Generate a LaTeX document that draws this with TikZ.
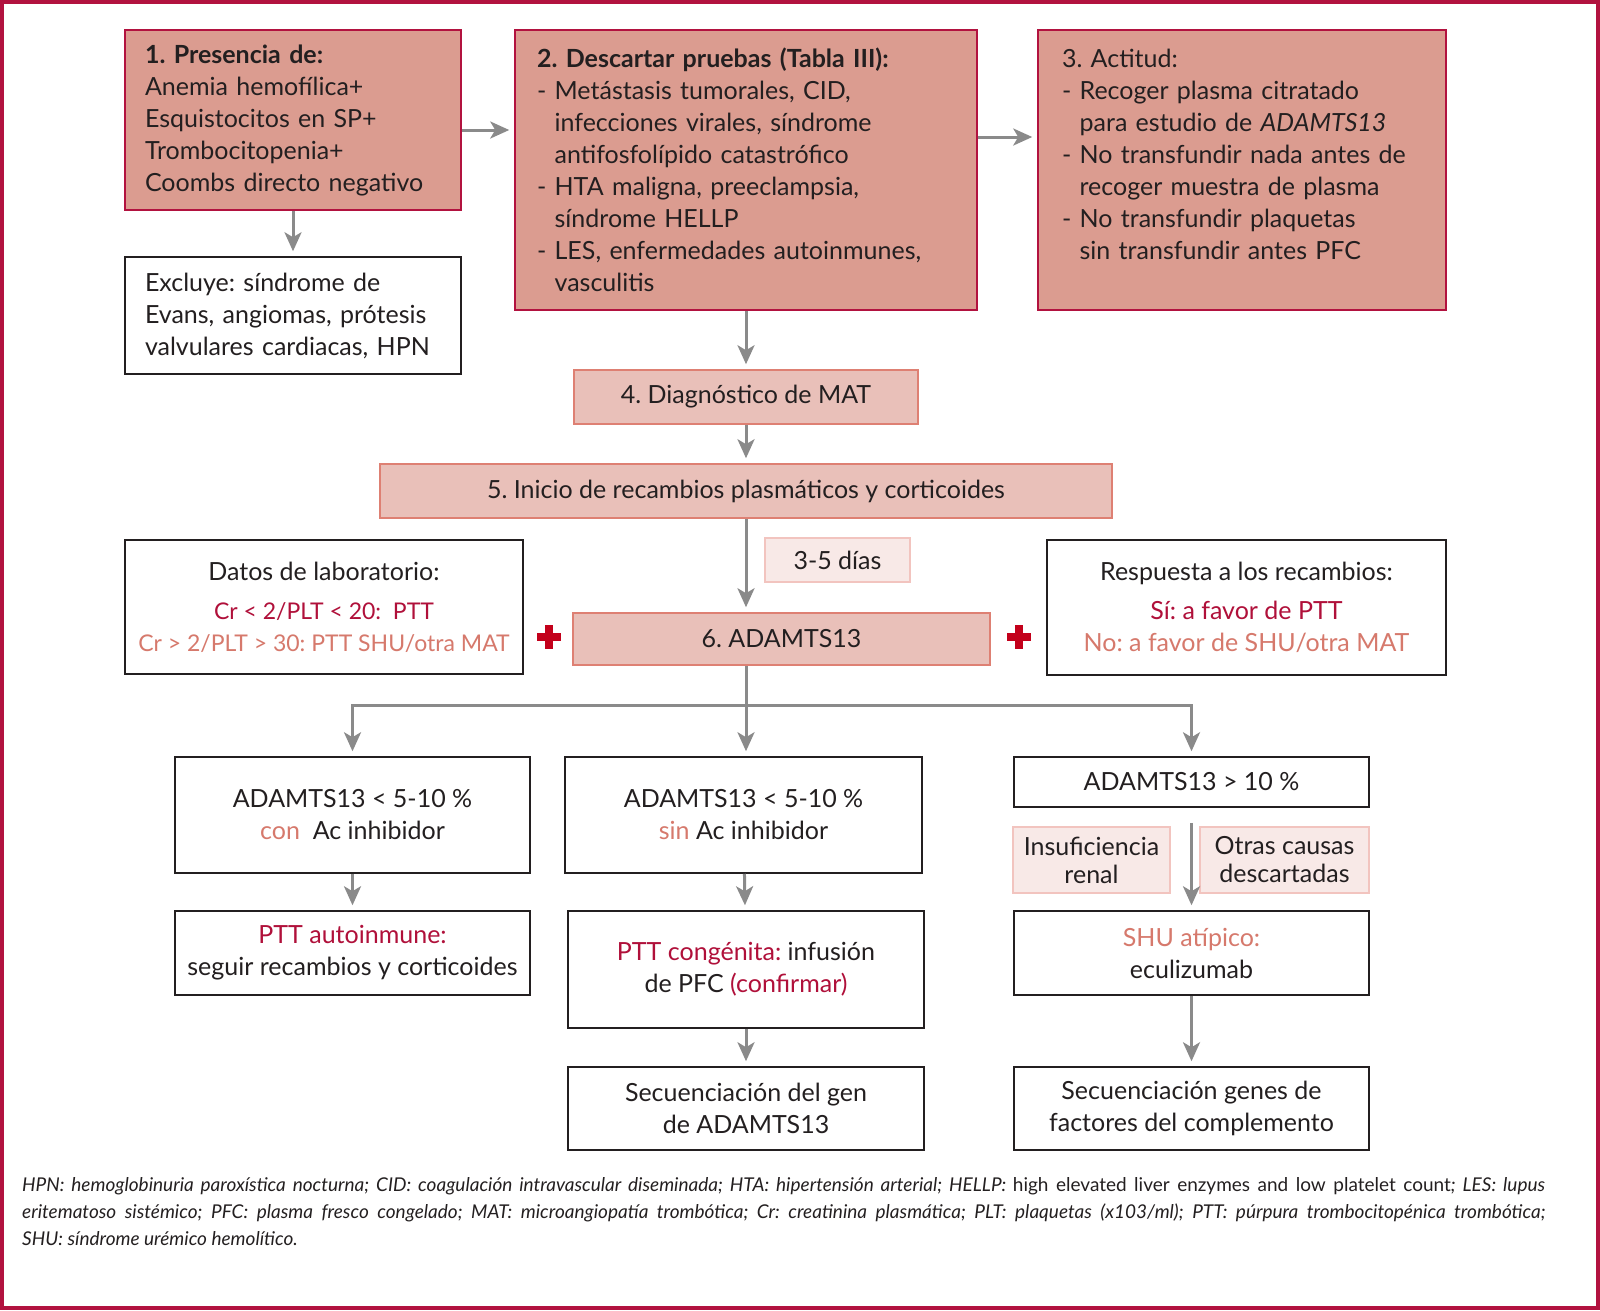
\documentclass[tikz,border=0pt]{standalone}
\usepackage{fontspec}
\setmainfont{Lato}
\frenchspacing
\usetikzlibrary{arrows.meta}
\definecolor{crimson}{HTML}{B2123F}
\definecolor{salmondark}{HTML}{DB9C90}
\definecolor{salmonmid}{HTML}{E9C0B9}
\definecolor{edgemid}{HTML}{DE8073}
\definecolor{salmonlight}{HTML}{F8E9E7}
\definecolor{edgelight}{HTML}{F2C4BF}
\definecolor{redtext}{HTML}{B0103A}
\definecolor{salmontext}{HTML}{D6796C}
\definecolor{arrowgray}{HTML}{8A8A8A}
\definecolor{ink}{HTML}{231F20}
\definecolor{crossred}{HTML}{C3001B}
\begin{document}
\begin{tikzpicture}[x=1pt,y=-1pt,
  every node/.style={font=\fontsize{25}{32}\selectfont, text=ink, inner ysep=0pt},
  darkbox/.style={draw=crimson, line width=1.5pt, fill=salmondark, align=left},
  midbox/.style={draw=edgemid, line width=1.5pt, fill=salmonmid, align=center},
  lightbox/.style={draw=edgelight, line width=1.5pt, fill=salmonlight, align=center},
  whitebox/.style={draw=ink, line width=1.5pt, fill=white, align=center},
  arr/.style={draw=arrowgray, line width=3pt, -{Stealth[length=19pt,width=17pt,inset=5pt]}, shorten >=5pt},
  link/.style={draw=arrowgray, line width=3pt}]
\useasboundingbox (0,0) rectangle (1600,1310);
\draw[crimson, line width=4pt] (2,2) rectangle (1598,1308);

% top row
\node[darkbox, minimum width=336pt, minimum height=180pt, text width=296pt, inner xsep=20pt] (b1) at (293,120)
  {\textbf{1. Presencia de:}\\Anemia hemofílica+\\Esquistocitos en SP+\\Trombocitopenia+\\Coombs directo negativo};
\node[darkbox, minimum width=462pt, minimum height=280pt, text width=418pt, inner xsep=22pt] (b2) at (746,170)
  {\textbf{2. Descartar pruebas (Tabla III):}\\
   - Metástasis tumorales, CID,\\
   \phantom{- }infecciones virales, síndrome\\
   \phantom{- }antifosfolípido catastrófico\\
   - HTA maligna, preeclampsia,\\
   \phantom{- }síndrome HELLP\\
   - LES, enfermedades autoinmunes,\\
   \phantom{- }vasculitis};
\node[darkbox, minimum width=408pt, minimum height=280pt, text width=360pt, inner xsep=24pt] (b3) at (1242,170)
  {3. Actitud:\\
   - Recoger plasma citratado\\
   \phantom{- }para estudio de \textit{ADAMTS13}\\
   - No transfundir nada antes de\\
   \phantom{- }recoger muestra de plasma\\
   - No transfundir plaquetas\\
   \phantom{- }sin transfundir antes PFC\\ \mbox{}};
\node[whitebox, align=left, minimum width=336pt, minimum height=117pt, text width=296pt, inner xsep=20pt] (excl) at (293,315.5)
  {Excluye: síndrome de\\Evans, angiomas, prótesis\\valvulares cardiacas, HPN};

% centre column
\node[midbox, minimum width=344pt, minimum height=54pt] (b4) at (746,397) {4. Diagnóstico de MAT};
\node[midbox, minimum width=732pt, minimum height=54pt] (b5) at (746,491) {5. Inicio de recambios plasmáticos y corticoides};
\node[lightbox, minimum width=145pt, minimum height=44pt] (dias) at (837.5,560) {3-5 días};
\node[midbox, minimum width=417pt, minimum height=52pt] (b6) at (781.5,639) {6. ADAMTS13};
\node[whitebox, minimum width=398pt, minimum height=134pt] (lab) at (324,607)
  {Datos de laboratorio:\\[7pt]\textcolor{redtext}{\fontsize{23}{32}\selectfont Cr < 2/PLT < 20:\ \ PTT}\\\textcolor{salmontext}{\fontsize{23}{32}\selectfont Cr > 2/PLT > 30: PTT SHU/otra MAT}};
\node[whitebox, minimum width=399pt, minimum height=135pt] (resp) at (1246.5,607.5)
  {Respuesta a los recambios:\\[7pt]\textcolor{redtext}{Sí: a favor de PTT}\\\textcolor{salmontext}{No: a favor de SHU/otra MAT}};
\fill[crossred] (537,633) rectangle (561,641);
\fill[crossred] (545,625) rectangle (553,649);
\fill[crossred] (1007,633) rectangle (1031,641);
\fill[crossred] (1015,625) rectangle (1023,649);

% branches
\node[whitebox, minimum width=355pt, minimum height=116pt] (a1) at (352.5,815)
  {ADAMTS13 < 5-10 \%\\\textcolor{salmontext}{con}\ \ Ac inhibidor};
\node[whitebox, minimum width=357pt, minimum height=116pt] (a2) at (743.5,815)
  {ADAMTS13 < 5-10 \%\\\textcolor{salmontext}{sin} Ac inhibidor};
\node[whitebox, minimum width=355pt, minimum height=50pt] (a3) at (1191.5,782) {ADAMTS13 > 10 \%};
\node[whitebox, minimum width=355pt, minimum height=84pt] (p1) at (352.5,953)
  {\textcolor{redtext}{PTT autoinmune:}\\seguir recambios y corticoides};
\node[whitebox, minimum width=356pt, minimum height=117pt] (p2) at (746,969.5)
  {\textcolor{redtext}{PTT congénita:} infusión\\de PFC \textcolor{redtext}{(confirmar)}};
\node[whitebox, minimum width=356pt, minimum height=83pt] (s1) at (746,1108.5)
  {Secuenciación del gen\\de ADAMTS13};
\node[lightbox, minimum width=157pt, minimum height=66pt, font=\fontsize{25}{28}\selectfont] (ins) at (1091.5,860)
  {Insuficiencia\\renal};
\node[lightbox, minimum width=169pt, minimum height=66pt, font=\fontsize{25}{28}\selectfont] (otras) at (1284.5,860)
  {Otras causas\\descartadas};
\node[whitebox, minimum width=355pt, minimum height=84pt] (shu) at (1191.5,953)
  {\textcolor{salmontext}{SHU atípico:}\\eculizumab};
\node[whitebox, minimum width=355pt, minimum height=83pt] (s2) at (1191.5,1108.5)
  {Secuenciación genes de\\factores del complemento};

\coordinate (fork) at (746,705);
\coordinate (a3out) at ([yshift=-15pt]a3.south);

\draw[arr] ([yshift=-10pt]b1.east) -- ([yshift=-10pt]b1.east -| b2.west);
\draw[arr] ([yshift=33pt]b2.east) -- ([yshift=33pt]b2.east -| b3.west);
\draw[arr] (b1) -- (excl);
\draw[arr] (b2) -- (b4);
\draw[arr] (b4) -- (b5);
\draw[arr] (b5.south) -- (b5.south |- b6.north);
\draw[link] (b6.south -| fork) -- (fork);
\draw[arr] (fork) -| (a1.north);
\draw[arr] (fork) -- (fork |- a2.north);
\draw[arr] (fork) -| (a3.north);
\draw[arr] (a1) -- (p1);
\draw[arr] (a2) -- (p2);
\draw[arr] (p2) -- (s1);
\draw[arr] (a3out) -- (shu.north);
\draw[arr] (shu) -- (s2);

\node[anchor=north west, inner sep=0pt, text width=1523pt, align=justify, font=\fontsize{19}{27}\selectfont\itshape] (notes) at (22,1177)
  {HPN: hemoglobinuria paroxística nocturna; CID: coagulación intravascular diseminada; HTA: hipertensión arterial; HELLP: \textup{high elevated liver enzymes and low platelet count}; LES: lupus\linebreak eritematoso sistémico; PFC: plasma fresco congelado; MAT: microangiopatía trombótica; Cr: creatinina plasmática; PLT: plaquetas (x103/ml); PTT: púrpura trombocitopénica trombótica;\linebreak SHU: síndrome urémico hemolítico.};
\end{tikzpicture}
\end{document}
